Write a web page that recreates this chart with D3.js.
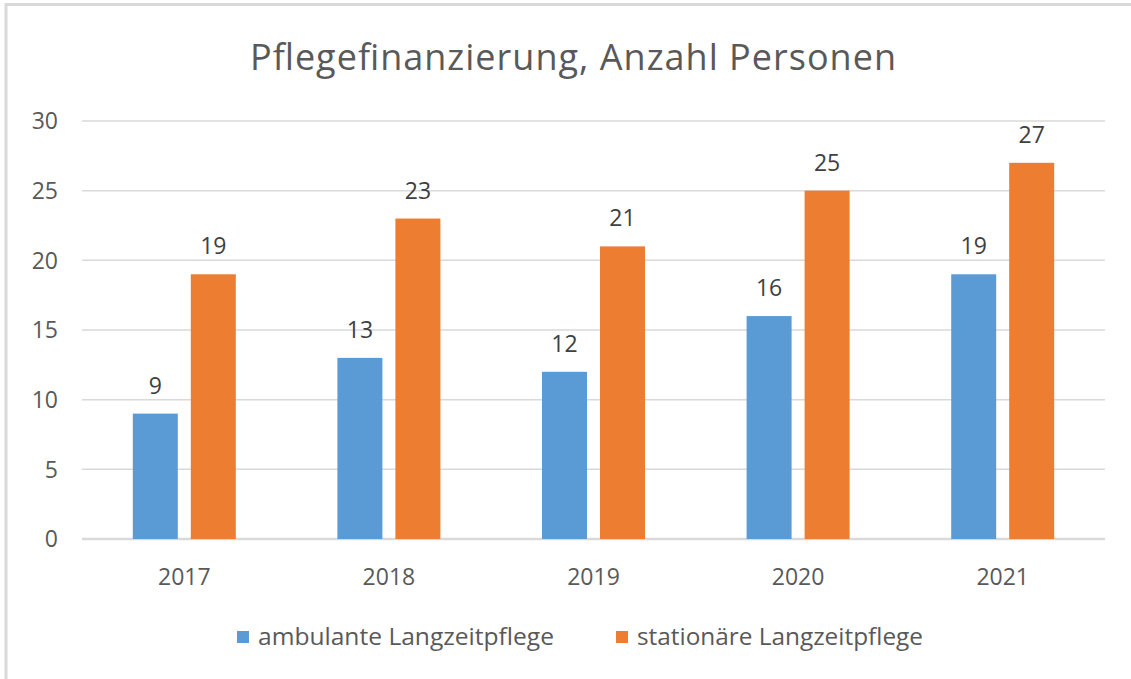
<!DOCTYPE html>
<html>
<head>
<meta charset="utf-8">
<script src="https://cdn.jsdelivr.net/npm/d3@7"></script>
<style>
  body { margin: 0; background: #fff; }
  text { font-family: "Open Sans", "Noto Sans", sans-serif; }
</style>
</head>
<body>
<svg id="chart" width="1131" height="679"></svg>
<script>
// data
var years = ["2017", "2018", "2019", "2020", "2021"];
var ambulant = [9, 13, 12, 16, 19];
var stationaer = [19, 23, 21, 25, 27];
var seriesNames = ["ambulante Langzeitpflege", "stationäre Langzeitpflege"];
var colors = ["#5B9BD5", "#ED7D31"];
var yTicks = [0, 5, 10, 15, 20, 25, 30];

var svg = d3.select("#chart");

// outer frame (only top & left visible)
svg.append("path")
  .attr("d", "M6,700 L6,4.5 L1140,4.5")
  .attr("fill", "none")
  .attr("stroke", "#d9d9d9")
  .attr("stroke-width", 3);

var plotLeft = 82, plotRight = 1105, plotTop = 121, plotBottom = 539;

var x = d3.scaleBand().domain(years).range([plotLeft, plotRight]);
var y = d3.scaleLinear().domain([0, 30]).range([plotBottom, plotTop]);

// gridlines
svg.append("g")
  .selectAll("line")
  .data(yTicks)
  .enter().append("line")
  .attr("x1", plotLeft).attr("x2", plotRight)
  .attr("y1", function(d) { return y(d); })
  .attr("y2", function(d) { return y(d); })
  .attr("stroke", "#d9d9d9")
  .attr("stroke-width", function(d) { return d == 0 ? 2.5 : 1.5; });

// y labels
svg.append("g")
  .selectAll("text")
  .data(yTicks)
  .enter().append("text")
  .attr("x", 58)
  .attr("y", function(d) { return y(d); })
  .attr("dy", "0.36em")
  .attr("text-anchor", "end")
  .attr("font-size", 23)
  .attr("fill", "#595959")
  .text(function(d) { return d; });

// x labels
svg.append("g")
  .selectAll("text")
  .data(years)
  .enter().append("text")
  .attr("x", function(d) { return x(d) + x.bandwidth() / 2; })
  .attr("y", 585)
  .attr("text-anchor", "middle")
  .attr("font-size", 23)
  .attr("fill", "#595959")
  .text(function(d) { return d; });

var barW = 45, gap = 13;
var series = [ambulant, stationaer];

series.forEach(function(vals, s) {
  var offset = s == 0 ? -(gap / 2 + barW) : gap / 2;
  var g = svg.append("g");
  g.selectAll("rect")
    .data(vals)
    .enter().append("rect")
    .attr("x", function(d, i) { return x(years[i]) + x.bandwidth() / 2 + offset; })
    .attr("y", function(d) { return y(d); })
    .attr("width", barW)
    .attr("height", function(d) { return y(0) - y(d); })
    .attr("fill", colors[s]);
  g.selectAll("text")
    .data(vals)
    .enter().append("text")
    .attr("x", function(d, i) { return x(years[i]) + x.bandwidth() / 2 + offset + barW / 2; })
    .attr("y", function(d) { return y(d) - 20; })
    .attr("text-anchor", "middle")
    .attr("font-size", 23)
    .attr("fill", "#404040")
    .text(function(d) { return d; });
});

// title
svg.append("text")
  .attr("x", 573)
  .attr("y", 70)
  .attr("text-anchor", "middle")
  .attr("font-size", 36)
  .attr("fill", "#595959")
  .attr("textLength", 646)
  .attr("lengthAdjust", "spacing")
  .text("Pflegefinanzierung, Anzahl Personen");

// legend
var legendX = [237, 616];
var legendW = [296, 286];
seriesNames.forEach(function(name, s) {
  svg.append("rect")
    .attr("x", legendX[s]).attr("y", 631)
    .attr("width", 12).attr("height", 12)
    .attr("fill", colors[s]);
  svg.append("text")
    .attr("x", legendX[s] + 21)
    .attr("y", 645)
    .attr("font-size", 23)
    .attr("fill", "#595959")
    .attr("textLength", legendW[s])
    .attr("lengthAdjust", "spacingAndGlyphs")
    .text(name);
});
</script>
</body>
</html>
